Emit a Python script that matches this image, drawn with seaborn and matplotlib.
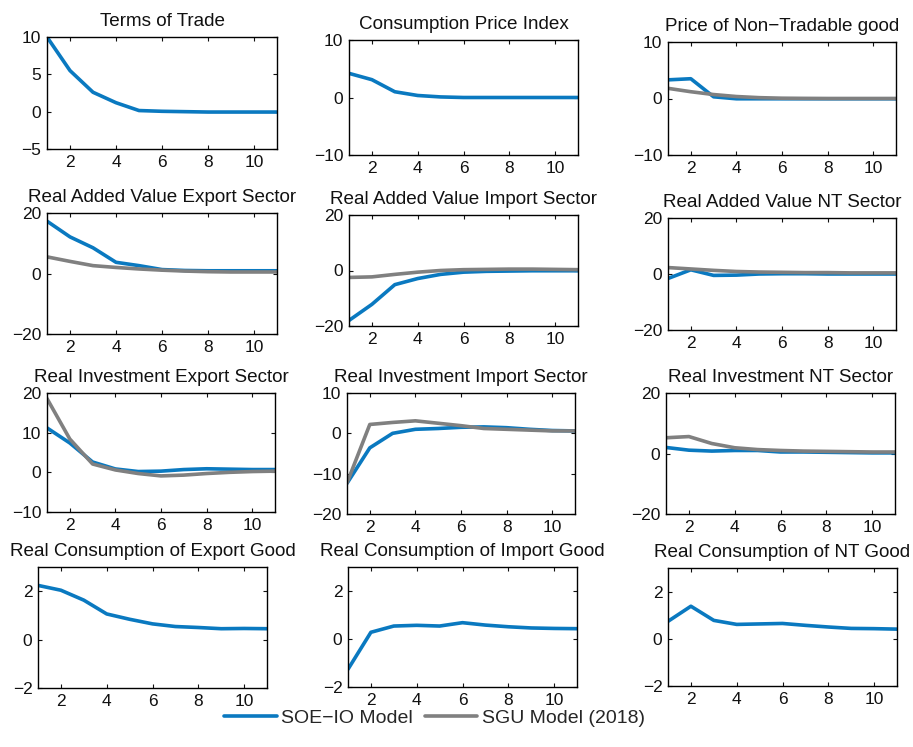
import numpy as np
import pandas as pd
import matplotlib
matplotlib.use("Agg")
import matplotlib.pyplot as plt
import seaborn as sns
from matplotlib.lines import Line2D

# Impulse responses, periods 1..11
periods = list(range(1, 12))

titles = [
    "Terms of Trade", "Consumption Price Index", "Price of Non\u2212Tradable good",
    "Real Added Value Export Sector", "Real Added Value Import Sector", "Real Added Value NT Sector",
    "Real Investment Export Sector", "Real Investment Import Sector", "Real Investment NT Sector",
    "Real Consumption of Export Good", "Real Consumption of Import Good", "Real Consumption of NT Good",
]

soe_tot = [10, 5.5, 2.6, 1.2, 0.15, 0.05, 0.0, -0.05, -0.05, -0.05, -0.05]
soe_cpi = [4.2, 3.1, 1.0, 0.35, 0.1, 0.0, 0.0, 0.0, 0.0, 0.0, 0.0]
soe_pnt = [3.3, 3.5, 0.3, -0.05, -0.05, -0.05, -0.05, -0.05, -0.05, -0.05, -0.05]
sgu_pnt = [1.8, 1.2, 0.7, 0.35, 0.15, 0.05, 0.02, 0.0, 0.0, 0.0, 0.0]
soe_vax = [17.3, 12.1, 8.5, 3.7, 2.6, 1.3, 1.0, 0.9, 0.9, 0.9, 0.9]
sgu_vax = [5.5, 4.0, 2.6, 2.0, 1.5, 1.1, 0.8, 0.6, 0.5, 0.5, 0.5]
soe_vam = [-18.0, -12.2, -5.1, -2.9, -1.4, -0.6, -0.3, -0.2, -0.1, -0.1, -0.1]
sgu_vam = [-2.5, -2.3, -1.4, -0.6, 0.0, 0.3, 0.4, 0.5, 0.5, 0.4, 0.3]
soe_vant = [-1.6, 1.5, -0.5, -0.4, 0.0, 0.1, 0.1, 0.0, 0.0, 0.0, 0.0]
sgu_vant = [2.3, 1.8, 1.3, 0.9, 0.7, 0.6, 0.5, 0.5, 0.4, 0.4, 0.4]
soe_ix = [11.2, 7.4, 2.6, 0.85, 0.2, 0.3, 0.7, 0.9, 0.8, 0.7, 0.7]
sgu_ix = [18.6, 8.4, 2.1, 0.6, -0.3, -0.9, -0.7, -0.3, 0.0, 0.2, 0.3]
soe_im = [-12.4, -3.6, 0.0, 1.0, 1.2, 1.5, 1.6, 1.4, 1.0, 0.7, 0.6]
sgu_im = [-12.3, 2.2, 2.7, 3.1, 2.5, 1.9, 1.2, 1.0, 0.8, 0.6, 0.6]
soe_int = [2.0, 1.1, 0.8, 1.0, 1.0, 0.5, 0.5, 0.4, 0.3, 0.2, 0.2]
sgu_int = [5.2, 5.6, 3.3, 1.9, 1.3, 1.0, 0.8, 0.7, 0.6, 0.5, 0.5]
soe_cx = [2.24, 2.04, 1.63, 1.06, 0.84, 0.65, 0.54, 0.50, 0.45, 0.46, 0.45]
soe_cm = [-1.26, 0.28, 0.54, 0.57, 0.54, 0.68, 0.58, 0.51, 0.46, 0.44, 0.43]
soe_cnt = [0.74, 1.38, 0.78, 0.61, 0.63, 0.65, 0.57, 0.50, 0.44, 0.43, 0.41]

soe_series = [soe_tot, soe_cpi, soe_pnt, soe_vax, soe_vam, soe_vant,
              soe_ix, soe_im, soe_int, soe_cx, soe_cm, soe_cnt]
sgu_series = [None, None, sgu_pnt, sgu_vax, sgu_vam, sgu_vant,
              sgu_ix, sgu_im, sgu_int, None, None, None]

y_limits = [(-5, 10), (-10, 10), (-10, 10),
            (-20, 20), (-20, 20), (-20, 20),
            (-10, 20), (-20, 10), (-20, 20),
            (-2, 3), (-2, 3), (-2, 3)]
y_ticks = [[-5, 0, 5, 10], [-10, 0, 10], [-10, 0, 10],
           [-20, 0, 20], [-20, 0, 20], [-20, 0, 20],
           [-10, 0, 10, 20], [-20, -10, 0, 10], [-20, 0, 20],
           [-2, 0, 2], [-2, 0, 2], [-2, 0, 2]]

blue = "#0a79c0"
gray = "#808080"

sns.set_theme(style="ticks")
plt.rcParams["font.family"] = ["Liberation Sans", "DejaVu Sans"]
plt.rcParams["xtick.direction"] = "in"
plt.rcParams["ytick.direction"] = "in"

W, H = 913, 747
fig = plt.figure(figsize=(W / 100, H / 100), dpi=100)

# axes boxes in pixels: left, top, right, bottom
boxes = [
    (47, 37, 277, 149), (349, 40, 578, 155), (668, 42, 896, 155),
    (47, 213, 277, 334), (349, 215, 578, 326), (668, 218, 896, 330),
    (47, 393, 275, 512), (347, 393, 575, 514), (666, 393, 895, 514),
    (38, 567, 267, 688), (348, 567, 577, 687), (668, 568, 897, 686),
]

for i, (l, t, r, b) in enumerate(boxes):
    ax = fig.add_axes([l / W, 1 - b / H, (r - l) / W, (b - t) / H])
    df = pd.DataFrame({"period": periods, "value": soe_series[i]})
    sns.lineplot(data=df, x="period", y="value", color=blue, lw=2.6, ax=ax)
    if sgu_series[i] is not None:
        df2 = pd.DataFrame({"period": periods, "value": sgu_series[i]})
        sns.lineplot(data=df2, x="period", y="value", color=gray, lw=2.6, ax=ax)
    ax.set_xlim(1, 11)
    ax.set_ylim(*y_limits[i])
    ax.set_xticks([2, 4, 6, 8, 10])
    ax.set_yticks(y_ticks[i])
    ax.set_xlabel("")
    ax.set_ylabel("")
    ax.set_title(titles[i], fontsize=13.6, pad=8, color="#111111")
    ax.tick_params(labelsize=12.5, length=3, width=0.8, top=True, right=True,
                   colors="#111111", pad=4)
    for s in ax.spines.values():
        s.set_linewidth(1.0)
        s.set_color("black")

handles = [Line2D([0], [0], color=blue, lw=2.6),
           Line2D([0], [0], color=gray, lw=2.6)]
fig.legend(handles, ["SOE\u2212IO Model", "SGU Model (2018)"], loc="lower center",
           bbox_to_anchor=(0.476, 0.003), ncol=2, frameon=False, fontsize=14,
           handlelength=2.7, columnspacing=0.6, handletextpad=0.25)

fig.savefig("out.png", dpi=100)
